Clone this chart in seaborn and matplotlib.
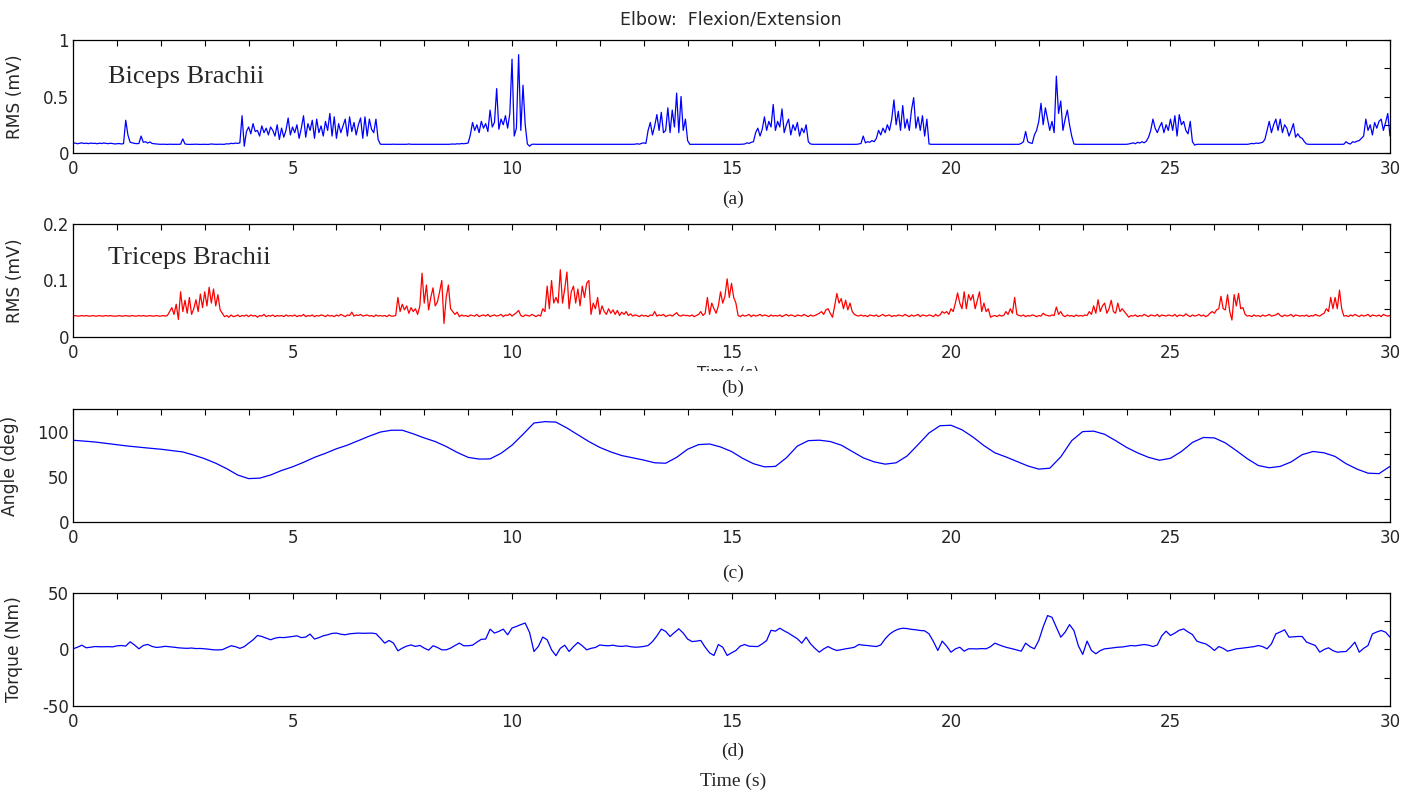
import numpy as np
import matplotlib
matplotlib.use("Agg")
import matplotlib.pyplot as plt
import seaborn as sns
from matplotlib.transforms import Bbox, TransformedBbox

# biceps RMS, 0.05 s samples, in mV x 1000
biceps = [
    85, 88, 82, 86, 90, 84, 87, 83, 88, 85, 86, 82, 87, 84, 89, 85, 83, 86, 84, 80,
    82, 84, 80, 83, 290, 160, 95, 90, 85, 83, 84, 150, 95, 100, 88, 98, 85, 82, 80, 78,
    77, 78, 77, 76, 78, 77, 77, 77, 77, 78, 125, 80, 77, 76, 77, 77, 78, 77, 76, 77,
    77, 76, 77, 80, 78, 77, 77, 78, 77, 77, 82, 80, 86, 83, 88, 85, 90, 330, 60, 190,
    230, 170, 260, 190, 200, 150, 240, 180, 220, 160, 230, 200, 150, 250, 120, 220, 140, 200, 310, 160,
    230, 180, 250, 130, 220, 330, 140, 260, 200, 290, 130, 300, 180, 240, 150, 280, 200, 350, 150, 320,
    130, 260, 180, 240, 300, 150, 320, 190, 270, 160, 250, 310, 130, 320, 150, 300, 210, 180, 300, 120,
    78, 77, 77, 77, 77, 77, 78, 77, 77, 77, 77, 77, 77, 80, 77, 77, 77, 77, 77, 77,
    77, 77, 77, 77, 77, 77, 77, 77, 77, 77, 77, 77, 78, 80, 78, 82, 80, 84, 82, 85,
    88, 160, 270, 200, 250, 180, 280, 220, 260, 190, 380, 230, 270, 570, 210, 300, 250, 330, 220, 350,
    830, 150, 220, 870, 200, 600, 250, 80, 60, 77, 78, 77, 77, 77, 77, 77, 77, 77, 77, 77,
    77, 77, 77, 77, 77, 77, 77, 77, 77, 77, 77, 77, 77, 77, 77, 77, 77, 77, 77, 77,
    77, 77, 77, 77, 77, 77, 77, 77, 77, 77, 77, 77, 77, 77, 77, 77, 78, 82, 78, 85,
    90, 85, 200, 270, 160, 240, 340, 200, 360, 180, 200, 400, 180, 380, 230, 530, 180, 500, 200, 300,
    110, 77, 77, 77, 77, 77, 77, 77, 77, 77, 77, 77, 77, 77, 77, 77, 77, 77, 77, 77,
    77, 77, 77, 77, 77, 78, 80, 90, 85, 95, 100, 180, 220, 150, 210, 320, 200, 280, 230, 430,
    200, 280, 230, 390, 180, 250, 300, 160, 250, 200, 270, 150, 220, 180, 250, 100, 80, 77, 77, 77,
    77, 77, 77, 77, 77, 77, 77, 77, 77, 77, 77, 77, 77, 77, 77, 77, 77, 77, 80, 85,
    150, 90, 100, 95, 110, 100, 130, 200, 160, 220, 180, 250, 200, 300, 470, 250, 370, 200, 420, 220,
    300, 200, 380, 490, 220, 320, 200, 330, 150, 300, 80, 77, 77, 77, 77, 77, 77, 77, 77, 77,
    77, 77, 77, 77, 77, 77, 77, 77, 77, 77, 77, 77, 77, 77, 77, 77, 77, 77, 77, 77,
    77, 77, 77, 77, 77, 77, 77, 77, 77, 77, 77, 77, 85, 100, 190, 100, 90, 85, 160, 200,
    280, 440, 250, 400, 300, 200, 280, 180, 680, 350, 460, 200, 300, 380, 250, 150, 80, 77, 77, 77,
    77, 77, 77, 77, 77, 77, 77, 77, 77, 77, 77, 77, 77, 77, 77, 77, 77, 77, 77, 77,
    77, 80, 85, 90, 82, 95, 88, 100, 90, 105, 140, 200, 300, 220, 180, 230, 270, 180, 250, 200,
    300, 200, 330, 150, 340, 250, 280, 200, 170, 280, 100, 70, 77, 77, 77, 77, 77, 77, 77, 77,
    77, 77, 77, 77, 77, 77, 77, 77, 77, 77, 77, 77, 77, 77, 77, 77, 80, 85, 82, 88,
    85, 90, 95, 120, 200, 280, 180, 250, 300, 200, 300, 180, 250, 220, 150, 200, 260, 140, 170, 140,
    130, 100, 80, 77, 77, 77, 77, 77, 77, 77, 77, 77, 77, 77, 77, 77, 77, 77, 77, 78,
    100, 85, 80, 100, 95, 105, 110, 130, 150, 300, 200, 250, 160, 270, 220, 280, 300, 200, 270, 350,
    150,
]

# triceps RMS, 0.05 s samples, in mV x 1000
triceps = [
    37, 38, 37, 37, 38, 37, 38, 37, 37, 38, 37, 37, 38, 37, 37, 38, 37, 38, 37, 37,
    37, 38, 37, 37, 38, 37, 37, 38, 37, 37, 38, 37, 38, 37, 37, 38, 37, 37, 38, 37,
    37, 38, 37, 38, 45, 52, 40, 58, 31, 80, 45, 65, 42, 70, 40, 50, 66, 45, 76, 52,
    80, 55, 88, 60, 85, 55, 75, 48, 42, 36, 38, 35, 39, 36, 37, 39, 36, 38, 37, 39,
    36, 39, 37, 38, 35, 38, 37, 40, 36, 38, 37, 39, 36, 38, 37, 38, 36, 39, 37, 38,
    37, 39, 36, 38, 37, 40, 36, 38, 37, 39, 36, 38, 37, 39, 38, 36, 39, 37, 38, 36,
    39, 37, 40, 38, 36, 39, 38, 44, 37, 39, 38, 40, 37, 38, 39, 37, 38, 36, 39, 37,
    38, 37, 38, 36, 39, 37, 37, 38, 70, 45, 58, 48, 55, 42, 52, 45, 50, 40, 55, 113,
    60, 92, 48, 70, 87, 55, 62, 80, 100, 24, 70, 92, 50, 45, 40, 44, 36, 39, 37, 38,
    36, 39, 38, 37, 40, 36, 38, 39, 37, 40, 36, 38, 39, 37, 38, 40, 36, 39, 38, 41,
    37, 40, 43, 47, 38, 36, 39, 38, 37, 40, 38, 36, 39, 37, 50, 45, 90, 50, 100, 60,
    70, 60, 119, 60, 85, 115, 50, 80, 90, 60, 85, 55, 90, 70, 95, 100, 40, 60, 50, 70,
    40, 55, 45, 40, 50, 42, 48, 40, 47, 38, 44, 40, 45, 38, 41, 37, 39, 38, 36, 39,
    37, 38, 36, 39, 38, 45, 37, 39, 38, 40, 36, 38, 39, 37, 40, 43, 38, 37, 39, 38,
    38, 37, 39, 36, 38, 40, 45, 38, 42, 70, 40, 60, 50, 42, 55, 80, 60, 72, 103, 70,
    95, 70, 60, 38, 36, 39, 37, 38, 40, 36, 39, 37, 38, 40, 37, 39, 38, 36, 39, 37,
    38, 37, 39, 36, 38, 40, 37, 39, 38, 36, 39, 38, 37, 40, 38, 36, 39, 37, 38, 40,
    42, 45, 40, 48, 50, 42, 35, 55, 77, 60, 68, 50, 65, 48, 60, 45, 40, 38, 37, 39,
    37, 38, 36, 39, 38, 37, 39, 36, 38, 40, 37, 38, 39, 36, 38, 37, 39, 38, 37, 40,
    38, 36, 39, 37, 38, 40, 36, 39, 38, 37, 39, 38, 36, 40, 37, 39, 45, 42, 45, 40,
    50, 45, 60, 78, 60, 50, 80, 50, 75, 65, 75, 50, 65, 80, 45, 60, 45, 50, 35, 37,
    38, 36, 39, 37, 38, 45, 40, 50, 42, 70, 40, 38, 37, 39, 36, 38, 37, 39, 38, 36,
    38, 37, 42, 39, 38, 37, 39, 38, 53, 40, 45, 38, 36, 39, 37, 38, 36, 39, 37, 38,
    37, 39, 38, 45, 40, 55, 42, 66, 45, 55, 60, 42, 50, 65, 45, 42, 60, 45, 50, 45,
    40, 35, 38, 37, 39, 36, 38, 37, 40, 38, 36, 39, 38, 37, 40, 36, 39, 38, 37, 39,
    38, 37, 40, 36, 39, 38, 37, 41, 38, 36, 39, 37, 38, 40, 37, 39, 36, 38, 42, 45,
    42, 48, 50, 72, 50, 48, 75, 45, 30, 75, 55, 77, 50, 52, 40, 37, 38, 36, 39, 37,
    38, 36, 39, 37, 38, 40, 37, 38, 39, 42, 38, 36, 39, 37, 38, 40, 36, 39, 38, 37,
    38, 37, 39, 36, 38, 37, 40, 38, 37, 40, 42, 50, 45, 70, 50, 70, 50, 83, 50, 37,
    38, 36, 39, 37, 40, 38, 36, 39, 37, 38, 40, 36, 39, 38, 37, 39, 36, 40, 38, 37,
    38,
]

# elbow angle (deg), 0.25 s samples
angle = [
    90.4, 89.5, 88.5, 87, 85.5, 84, 82.8, 81.6, 80.5, 79, 77.5, 74, 70, 65, 59, 52,
    48, 48.5, 52, 57, 61, 66, 71.5, 76, 81, 85, 90, 95, 99.5, 101.5, 101.5, 97.5,
    93, 89, 83.5, 77, 71.5, 69.6, 69.8, 76, 85, 97, 109.5, 111, 110.5, 104, 96.5, 89,
    82.5, 77.5, 73.5, 71, 68.5, 65.5, 65, 71.5, 80.5, 85.6, 86.3, 83, 78, 70.5, 64.5, 61,
    61.5, 71, 84, 90, 90.5, 89, 85, 78, 71, 66.5, 64, 65.5, 73, 85.6, 98.5, 106.5,
    107, 102, 94, 84.5, 76.5, 72, 67, 62, 58.5, 59.5, 72, 90, 100, 100.5, 97, 90,
    82.5, 76.5, 71.5, 68.3, 70.5, 78, 88, 93.5, 93, 87.5, 79, 70, 62.5, 60, 61.5, 66.5,
    74.5, 78, 76.5, 72.5, 64.5, 58.5, 54, 53.5, 61.5,
]

# elbow torque (Nm), 0.1 s samples
torque = [
    0.6, 2.0, 3.8, 1.5, 2.0, 2.6, 2.4, 2.4, 2.5, 2.3,
    3.2, 3.5, 3.0, 6.8, 4.0, 0.6, 3.5, 4.5, 2.7, 1.8,
    2.2, 2.8, 2.4, 2.0, 1.5, 1.2, 1.0, 1.3, 0.8, 0.9,
    0.6, 0.2, -0.3, -0.4, -0.2, 1.5, 3.3, 2.5, 1.0, 2.5,
    5.6, 8.5, 12.4, 11.5, 10.0, 8.6, 10.0, 10.7, 10.5, 11.0,
    11.5, 12.1, 10.5, 11.0, 13.6, 9.2, 10.5, 12.1, 13.0, 14.2,
    14.5, 13.5, 13.0, 13.9, 14.2, 14.5, 14.3, 14.4, 14.5, 14.0,
    10.0, 5.6, 8.0, 5.6, -1.2, 1.2, 3.0, 4.0, 2.7, 3.6,
    1.2, -0.6, 3.3, 1.8, -0.3, -0.3, 1.2, 3.5, 5.6, 3.3,
    3.3, 3.8, 6.5, 9.0, 9.2, 18.0, 14.5, 16.0, 18.0, 13.0,
    19.0, 20.4, 22.0, 23.4, 15.0, -1.8, 2.7, 11.0, 8.6, -0.3,
    -5.5, 1.0, 3.8, -1.8, 2.5, 6.2, 3.3, -0.3, 1.0, 1.8,
    4.0, 3.5, 3.3, 3.8, 3.0, 2.7, 3.2, 2.5, 2.0, 2.2,
    2.7, 3.5, 7.0, 12.0, 18.0, 16.0, 11.5, 15.0, 18.3, 14.5,
    9.2, 7.0, 7.4, 8.0, 2.0, -3.0, -5.3, 4.4, 2.0, -5.3,
    -3.0, -0.9, 3.0, 4.4, 2.9, 2.7, 2.6, 5.0, 7.9, 17.0,
    16.2, 18.8, 16.5, 14.4, 12.0, 9.5, 5.6, 10.9, 5.0, 1.0,
    -2.4, 0.5, 2.6, 0.5, -0.9, -0.2, 0.6, 1.2, 2.0, 4.4,
    3.8, 3.5, 3.0, 2.6, 4.0, 9.4, 13.5, 16.2, 18.0, 18.8,
    18.5, 17.8, 17.4, 16.8, 16.5, 13.8, 7.0, -0.9, 7.4, 3.0,
    -2.4, 0.5, 2.0, -1.5, 0.6, 0.6, 0.5, 0.8, 0.6, 2.5,
    5.6, 4.0, 2.6, 1.5, 0.6, -0.5, -1.5, 5.6, 2.5, 0.6,
    8.0, 20.0, 30.0, 28.5, 19.7, 10.9, 15.3, 22.0, 16.8, 3.5,
    -4.4, 7.4, -0.9, -3.8, -1.0, 0.6, 1.0, 1.5, 2.0, 2.2,
    2.8, 3.5, 3.2, 3.8, 4.4, 3.8, 2.6, 4.0, 12.0, 16.2,
    12.4, 14.5, 17.0, 18.2, 15.5, 13.2, 7.4, 6.0, 5.0, 2.5,
    -0.9, 2.6, 1.0, -1.5, -0.5, 0.6, 1.0, 1.5, 2.0, 2.5,
    3.5, 2.5, 0.6, 5.0, 13.8, 15.5, 17.4, 10.9, 11.2, 11.5,
    11.5, 6.5, 5.0, 3.5, -2.4, 0.0, 1.5, -1.0, -2.4, -2.0,
    -1.8, 2.0, 6.5, -2.4, 1.0, 3.5, 13.8, 15.5, 16.8, 15.3,
    10.9,
]

x_major = [0, 5, 10, 15, 20, 25, 30]
x_minor = [1, 2, 3, 4, 6, 7, 8, 9, 11, 12, 13, 14, 16, 17, 18, 19,
           21, 22, 23, 24, 26, 27, 28, 29]

# time axes from the sample rates
t_emg = np.linspace(0, 30, len(biceps))
t_angle = np.linspace(0, 30, len(angle))
t_torque = np.linspace(0, 30, len(torque))

sns.set_style("white")
plt.rcParams["font.family"] = ["DejaVu Sans"]

fig = plt.figure(figsize=(14.13, 7.92), dpi=100)

left, width, height = 0.0517, 0.932, 0.1427
bottoms = [0.8068, 0.5745, 0.3409, 0.1086]

panels = [
    (t_emg, np.array(biceps) / 1000, "#0000ff", 0.9, (0, 1), [0, 0.5, 1], ["0", "0.5", "1"], [0.25, 0.75], "RMS (mV)", -0.037),
    (t_emg, np.array(triceps) / 1000, "#ff0000", 0.9, (0, 0.2), [0, 0.1, 0.2], ["0", "0.1", "0.2"], [0.05, 0.15], "RMS (mV)", -0.037),
    (t_angle, angle, "#0000ff", 0.9, (0, 125), [0, 50, 100], ["0", "50", "100"], [25, 75], "Angle (deg)", -0.041),
    (t_torque, torque, "#0000ff", 0.9, (-50, 50), [-50, 0, 50], ["-50", "0", "50"], [-25, 25], "Torque (Nm)", -0.038),
]

axes = []
for (x, y, col, lw, ylim, yt, ytl, ymin, ylab, lx), b in zip(panels, bottoms):
    ax = fig.add_axes([left, b, width, height])
    sns.lineplot(x=x, y=y, ax=ax, color=col, linewidth=lw)
    ax.set_xlim(0, 30)
    ax.set_ylim(*ylim)
    ax.set_xticks(x_major)
    ax.set_xticklabels([str(v) for v in x_major])
    ax.set_xticks(x_minor, minor=True)
    ax.set_yticks(yt)
    ax.set_yticklabels(ytl)
    ax.set_yticks(ymin, minor=True)
    ax.tick_params(which="both", direction="in", top=True, right=True,
                   length=4, width=0.8, color="black")
    ax.tick_params(axis="x", labelsize=12, pad=5)
    ax.tick_params(axis="y", labelsize=12, pad=3)
    for s in ax.spines.values():
        s.set_color("black")
        s.set_linewidth(0.9)
    ax.set_xlabel("")
    ax.set_ylabel(ylab, fontsize=12.3)
    ax.yaxis.set_label_coords(lx, 0.5)
    axes.append(ax)

serif = ["Liberation Serif", "DejaVu Serif"]
axes[0].text(0.0266, 0.62, "Biceps Brachii", transform=axes[0].transAxes,
             family=serif, fontsize=19, va="baseline", ha="left")
axes[1].text(0.0266, 0.643, "Triceps Brachii", transform=axes[1].transAxes,
             family=serif, fontsize=19, va="baseline", ha="left")

fig.text(0.517, 0.976, "Elbow:  Flexion/Extension", ha="center", va="center", fontsize=12.5)
for lab, yy in zip(["(a)", "(b)", "(c)", "(d)"], [0.748, 0.51, 0.2765, 0.051]):
    fig.text(0.5185, yy, lab, ha="center", va="center", family=serif, fontsize=14)
fig.text(0.5185, 0.014, "Time (s)", ha="center", va="center", family=serif, fontsize=14)

# the panel (b) x label, almost fully hidden behind the "(b)" caption:
# only a thin strip of its top shows
hidden = fig.text(0.5155, 1 - 366 / 792, "Time (s)", ha="center", va="top", fontsize=11)
hidden.set_clip_box(TransformedBbox(Bbox([[0.45, 1 - 371 / 792], [0.6, 1 - 362 / 792]]),
                                    fig.transFigure))
hidden.set_clip_on(True)

fig.savefig("out.png", dpi=100)
